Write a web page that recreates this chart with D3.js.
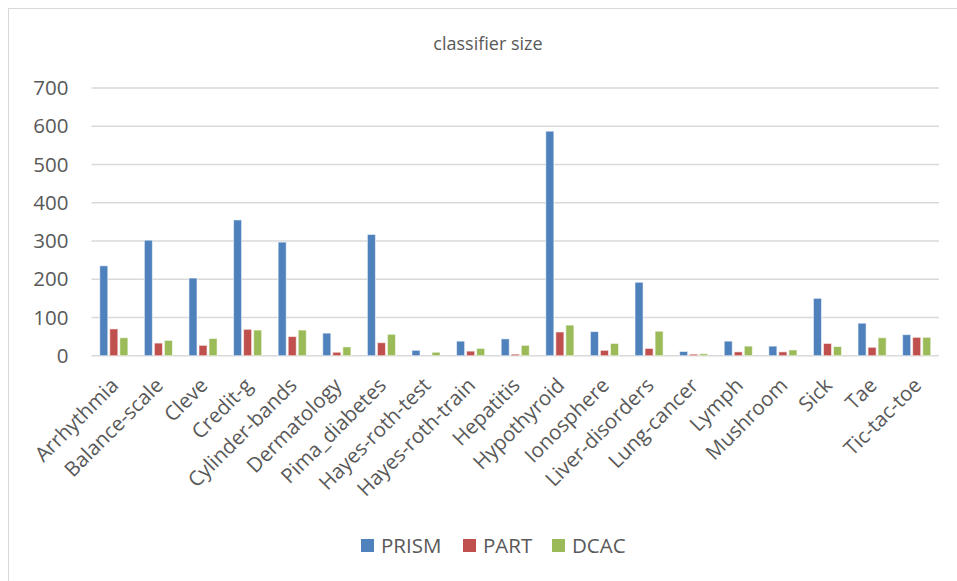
<!DOCTYPE html>
<html>
<head>
<meta charset="utf-8">
<script src="https://cdn.jsdelivr.net/npm/d3@7"></script>
<style>
  html, body { margin: 0; padding: 0; background: #fff; }
  svg { display: block; }
  text { font-family: "Open Sans", "Noto Sans", sans-serif; fill: #595959; }
</style>
</head>
<body>
<svg id="chart" width="957" height="581"></svg>
<script>
// Datasets on the x axis
const categories = [
  "Arrhythmia", "Balance-scale", "Cleve", "Credit-g", "Cylinder-bands",
  "Dermatology", "Pima_diabetes", "Hayes-roth-test", "Hayes-roth-train",
  "Hepatitis", "Hypothyroid", "Ionosphere", "Liver-disorders", "Lung-cancer",
  "Lymph", "Mushroom", "Sick", "Tae", "Tic-tac-toe"
];

// Classifier sizes per method
const seriesNames = ["PRISM", "PART", "DCAC"];
const prism = [235, 302, 203, 355, 297, 59, 317, 14, 38, 44, 587, 63, 192, 11, 38, 25, 150, 85, 55];
const part  = [70, 33, 27, 69, 50, 9, 34, 0, 12, 4, 62, 14, 19, 4, 10, 10, 32, 22, 48];
const dcac  = [47, 40, 45, 67, 67, 23, 56, 9, 19, 27, 80, 32, 64, 5, 25, 15, 24, 47, 48];
const seriesValues = [prism, part, dcac];
const seriesColors = ["#4F81BD", "#C0504D", "#9BBB59"];

const yTicks = [0, 100, 200, 300, 400, 500, 600, 700];
const title = "classifier size";

const labelSize = 20.5;
const svg = d3.select("#chart");

// Chart frame
svg.append("rect")
  .attr("x", 8.5).attr("y", 8.5)
  .attr("width", 980).attr("height", 620)
  .attr("fill", "#fff")
  .attr("stroke", "#d9d9d9")
  .attr("stroke-width", 1);

const plot = { left: 91.5, right: 939, top: 88, bottom: 355.7 };

const y = d3.scaleLinear().domain([0, 700]).range([plot.bottom, plot.top]);
const x0 = d3.scaleBand().domain(categories)
  .range([plot.left, plot.right])
  .paddingInner(0.37).paddingOuter(0.185);
const x1 = d3.scaleBand().domain(seriesNames)
  .range([0, x0.bandwidth()])
  .paddingInner(0.2).paddingOuter(0);

// Horizontal gridlines
svg.append("g")
  .selectAll("line")
  .data(yTicks)
  .join("line")
  .attr("x1", plot.left).attr("x2", plot.right)
  .attr("y1", d => y(d)).attr("y2", d => y(d))
  .attr("stroke", "#d9d9d9")
  .attr("stroke-width", 1.5);

// Y axis labels
const yAxis = d3.axisLeft(y).tickValues(yTicks).tickSize(0).tickPadding(0);
const yG = svg.append("g")
  .attr("transform", `translate(${plot.left - 23},0)`)
  .call(yAxis);
yG.select(".domain").remove();
yG.selectAll("text")
  .attr("font-size", labelSize)
  .attr("fill", "#595959")
  .style("font-family", "'Open Sans', sans-serif");

// Bars
const rows = categories.map((c, i) => ({
  cat: c,
  vals: seriesNames.map((s, k) => ({ key: s, value: seriesValues[k][i], color: seriesColors[k] }))
}));

svg.append("g")
  .selectAll("g")
  .data(rows)
  .join("g")
  .attr("transform", d => `translate(${x0(d.cat)},0)`)
  .selectAll("rect")
  .data(d => d.vals)
  .join("rect")
  .attr("x", d => x1(d.key))
  .attr("width", x1.bandwidth())
  .attr("y", d => y(d.value))
  .attr("height", d => y(0) - y(d.value))
  .attr("fill", d => d.color)
  .attr("stroke", "#ffffff")
  .attr("stroke-opacity", 0.55)
  .attr("stroke-width", 1);

// X axis labels, rotated
const xAxis = d3.axisBottom(x0).tickSize(0).tickPadding(0);
const xG = svg.append("g")
  .attr("transform", `translate(0,${plot.bottom})`)
  .call(xAxis);
xG.select(".domain").remove();
xG.selectAll("text")
  .attr("font-size", labelSize)
  .attr("fill", "#595959")
  .style("font-family", "'Open Sans', sans-serif")
  .attr("text-anchor", "end")
  .attr("dy", null)
  .attr("y", null)
  .attr("transform", "translate(6,31) rotate(-45)");

// Title
svg.append("text")
  .attr("x", 488).attr("y", 50)
  .attr("text-anchor", "middle")
  .attr("font-size", 18)
  .text(title);

// Legend
const legendX = [361, 463, 552];
const leg = svg.append("g")
  .selectAll("g")
  .data(seriesNames)
  .join("g")
  .attr("transform", (d, i) => `translate(${legendX[i]},539)`);
leg.append("rect")
  .attr("width", 13).attr("height", 13)
  .attr("fill", (d, i) => seriesColors[i]);
leg.append("text")
  .attr("x", 20).attr("y", 14)
  .attr("font-size", labelSize)
  .text(d => d);
</script>
</body>
</html>
